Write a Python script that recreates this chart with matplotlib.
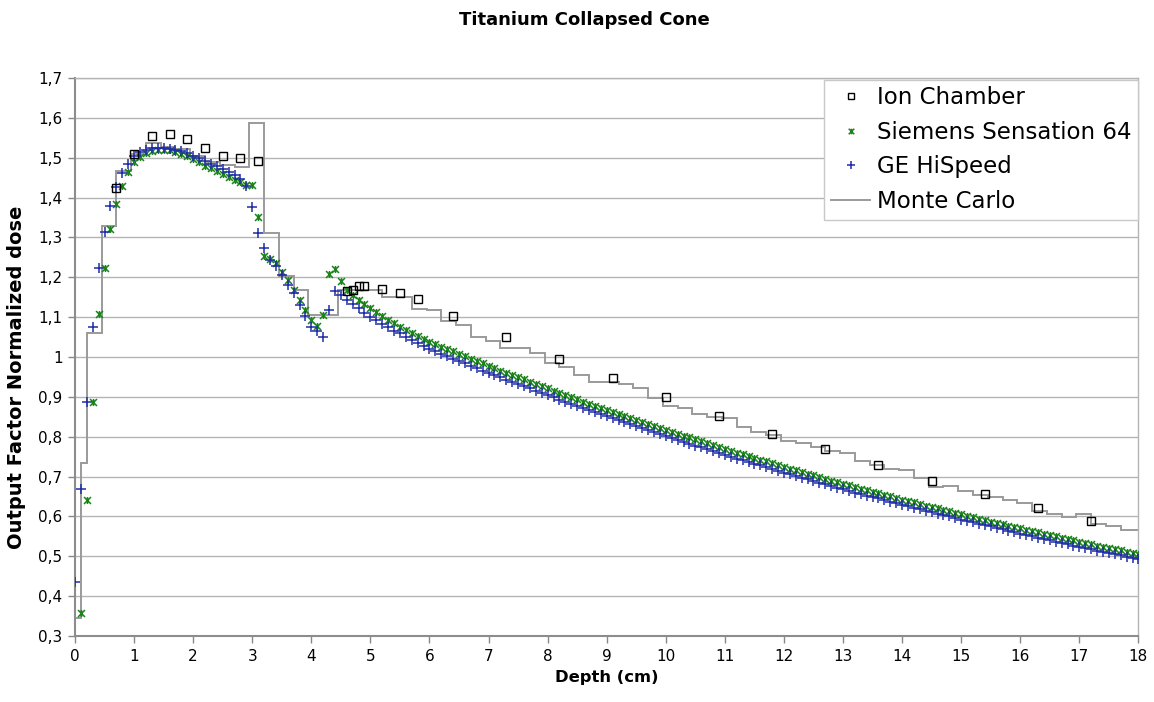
import numpy as np
import matplotlib
matplotlib.use("Agg")
import matplotlib.pyplot as plt
from matplotlib.path import Path
from matplotlib.ticker import FuncFormatter, MultipleLocator

# Ion chamber measurements
ion_depth = [0.7, 1.0, 1.3, 1.6, 1.9, 2.2, 2.5, 2.8, 3.1, 4.6, 4.7, 4.8, 4.9, 5.2, 5.5,
             5.8, 6.4, 7.3, 8.2, 9.1, 10.0, 10.9, 11.8, 12.7, 13.6, 14.5, 15.4, 16.3, 17.2]
ion_dose = [1.424, 1.509, 1.554, 1.559, 1.546, 1.525, 1.505, 1.498, 1.492, 1.166, 1.168,
            1.178, 1.178, 1.171, 1.160, 1.145, 1.104, 1.049, 0.995, 0.947, 0.900, 0.852,
            0.806, 0.768, 0.730, 0.690, 0.656, 0.622, 0.589]

# Collapsed cone, Siemens CT set (0.1 .. 18.0 cm)
siemens_depth = np.round(np.arange(1, 181) * 0.1, 1)
siemens_dose = [
    0.358, 0.641, 0.888, 1.107, 1.224, 1.320, 1.383, 1.428, 1.463, 1.488,
    1.502, 1.511, 1.516, 1.519, 1.520, 1.518, 1.515, 1.510, 1.503, 1.496,
    1.488, 1.480, 1.473, 1.466, 1.459, 1.452, 1.445, 1.438, 1.432, 1.431,
    1.350, 1.253, 1.246, 1.236, 1.213, 1.193, 1.168, 1.143, 1.118, 1.092,
    1.078, 1.105, 1.208, 1.220, 1.190, 1.168, 1.156, 1.143, 1.133, 1.122,
    1.113, 1.103, 1.093, 1.085, 1.076, 1.068, 1.061, 1.053, 1.045, 1.038,
    1.032, 1.026, 1.020, 1.014, 1.008, 1.002, 0.996, 0.990, 0.984, 0.978,
    0.972, 0.966, 0.961, 0.955, 0.949, 0.944, 0.938, 0.932, 0.926, 0.921,
    0.915, 0.910, 0.905, 0.899, 0.894, 0.888, 0.883, 0.878, 0.872, 0.867,
    0.862, 0.857, 0.852, 0.847, 0.842, 0.837, 0.832, 0.827, 0.822, 0.817,
    0.812, 0.807, 0.802, 0.798, 0.793, 0.788, 0.783, 0.779, 0.774, 0.769,
    0.765, 0.760, 0.756, 0.751, 0.747, 0.742, 0.738, 0.733, 0.729, 0.724,
    0.720, 0.716, 0.711, 0.707, 0.703, 0.699, 0.695, 0.690, 0.686, 0.682,
    0.678, 0.674, 0.670, 0.666, 0.662, 0.658, 0.654, 0.650, 0.646, 0.642,
    0.638, 0.635, 0.631, 0.627, 0.624, 0.620, 0.616, 0.613, 0.609, 0.605,
    0.601, 0.598, 0.594, 0.591, 0.587, 0.584, 0.580, 0.577, 0.573, 0.570,
    0.567, 0.563, 0.560, 0.557, 0.553, 0.550, 0.547, 0.543, 0.540, 0.536,
    0.533, 0.530, 0.527, 0.524, 0.521, 0.518, 0.515, 0.511, 0.508, 0.505,
]

# Collapsed cone, GE CT set (0.0 .. 18.0 cm)
ge_depth = np.round(np.arange(0, 181) * 0.1, 1)
ge_dose = [
    0.435,
    0.668, 0.888, 1.075, 1.223, 1.314, 1.379, 1.426, 1.461, 1.484, 1.503,
    1.513, 1.519, 1.523, 1.524, 1.524, 1.522, 1.520, 1.516, 1.511, 1.505,
    1.499, 1.492, 1.485, 1.478, 1.472, 1.465, 1.456, 1.446, 1.430, 1.376,
    1.312, 1.274, 1.242, 1.227, 1.206, 1.181, 1.160, 1.131, 1.103, 1.076,
    1.064, 1.051, 1.118, 1.166, 1.156, 1.143, 1.133, 1.122, 1.111, 1.101,
    1.093, 1.083, 1.074, 1.066, 1.059, 1.050, 1.043, 1.035, 1.027, 1.020,
    1.014, 1.008, 1.002, 0.996, 0.990, 0.984, 0.978, 0.972, 0.966, 0.960,
    0.954, 0.949, 0.943, 0.938, 0.932, 0.926, 0.921, 0.915, 0.910, 0.904,
    0.899, 0.893, 0.888, 0.883, 0.878, 0.872, 0.867, 0.862, 0.856, 0.851,
    0.846, 0.841, 0.836, 0.831, 0.826, 0.821, 0.816, 0.811, 0.806, 0.801,
    0.796, 0.792, 0.787, 0.782, 0.777, 0.773, 0.768, 0.763, 0.759, 0.754,
    0.750, 0.745, 0.741, 0.736, 0.732, 0.728, 0.723, 0.719, 0.714, 0.710,
    0.706, 0.702, 0.697, 0.693, 0.689, 0.685, 0.681, 0.676, 0.672, 0.668,
    0.664, 0.660, 0.656, 0.652, 0.649, 0.645, 0.641, 0.637, 0.633, 0.629,
    0.625, 0.622, 0.618, 0.614, 0.611, 0.607, 0.603, 0.600, 0.596, 0.592,
    0.589, 0.585, 0.582, 0.578, 0.575, 0.571, 0.568, 0.564, 0.561, 0.557,
    0.554, 0.550, 0.547, 0.544, 0.541, 0.537, 0.534, 0.531, 0.527, 0.524,
    0.521, 0.518, 0.514, 0.511, 0.508, 0.505, 0.502, 0.498, 0.495, 0.492,
]

# Monte Carlo voxel doses (2.5 mm voxels after the first two)
mc_edges = [0.0, 0.1] + [round(0.2 + 0.25 * k, 2) for k in range(71)] + [18.0]
mc_dose = [
    0.345, 0.733,
    1.060, 1.329, 1.467, 1.510, 1.537, 1.526, 1.522, 1.503, 1.490, 1.482,
    1.477, 1.588, 1.310, 1.202, 1.168, 1.105, 1.105, 1.168, 1.168, 1.168,
    1.150, 1.150, 1.120, 1.119, 1.090, 1.080, 1.050, 1.041, 1.022, 1.022,
    1.009, 0.984, 0.974, 0.955, 0.937, 0.937, 0.932, 0.922, 0.898, 0.877,
    0.872, 0.857, 0.849, 0.846, 0.825, 0.813, 0.804, 0.790, 0.785, 0.775,
    0.763, 0.758, 0.738, 0.729, 0.718, 0.716, 0.697, 0.673, 0.676, 0.664,
    0.653, 0.649, 0.642, 0.634, 0.613, 0.606, 0.599, 0.607, 0.581, 0.575,
    0.565,
]

# "star" marker: an x with a vertical bar through it
star = Path([(-1, -1), (1, 1), (-1, 1), (1, -1), (0, -1), (0, 1)],
            [Path.MOVETO, Path.LINETO, Path.MOVETO, Path.LINETO, Path.MOVETO, Path.LINETO])

green = "#1a841a"
blue = "#1f2ca8"
grey = "#9a9a9a"

fig = plt.figure(figsize=(11.54, 7.02), dpi=100)
ax = fig.add_axes([0.065, 0.094, 0.9215, 0.795])

ax.stairs(mc_dose, mc_edges, baseline=None, color=grey, linewidth=1.4,
          label="Monte Carlo", zorder=2)
ax.plot(siemens_depth, siemens_dose, linestyle="none", marker=star, markersize=5,
        markeredgecolor=green, markeredgewidth=1.1, label="Siemens Sensation 64", zorder=3)
ax.plot(ge_depth, ge_dose, linestyle="none", marker="+", markersize=6.5,
        markeredgecolor=blue, markeredgewidth=1.1, label="GE HiSpeed", zorder=4)
ax.plot(ion_depth, ion_dose, linestyle="none", marker="s", markersize=6,
        markerfacecolor="none", markeredgecolor="black", markeredgewidth=1.0,
        label="Ion Chamber", zorder=5)

ax.set_xlim(0, 18)
ax.set_ylim(0.3, 1.7)
ax.xaxis.set_major_locator(MultipleLocator(1))
ax.yaxis.set_major_locator(MultipleLocator(0.1))


def comma(v, pos):
    s = f"{v:.1f}"
    if s.endswith(".0"):
        s = s[:-2]
    return s.replace(".", ",")


ax.yaxis.set_major_formatter(FuncFormatter(comma))
ax.tick_params(labelsize=11, length=5, width=1, color="#888888", pad=4)
ax.grid(axis="y", color="#b4b4b4", linewidth=1.0)
ax.set_axisbelow(True)

for side in ["left", "bottom"]:
    ax.spines[side].set_color("#8c8c8c")
    ax.spines[side].set_linewidth(1.5)
for side in ["top", "right"]:
    ax.spines[side].set_color("#b4b4b4")
    ax.spines[side].set_linewidth(1.0)

fig.text(0.506, 0.972, "Titanium Collapsed Cone", fontsize=13, fontweight="bold",
         ha="center", va="center")
ax.set_xlabel("Depth (cm)", fontsize=11.8, fontweight="bold", labelpad=5)
ax.set_ylabel("Output Factor Normalized dose", fontsize=14, fontweight="bold")
ax.yaxis.set_label_coords(-0.046, 0.464)

handles, labels = ax.get_legend_handles_labels()
order = [3, 1, 2, 0]
leg = ax.legend([handles[i] for i in order], [labels[i] for i in order],
                loc="upper right", bbox_to_anchor=(1.0, 0.997), borderaxespad=0,
                fontsize=16.5, frameon=True, fancybox=False, framealpha=1,
                edgecolor="#c8c8c8", handlelength=1.7, handletextpad=0.3,
                borderpad=0.3, labelspacing=0.5, markerscale=0.8)
leg.get_frame().set_linewidth(1.0)

fig.savefig("out.png", dpi=100)
